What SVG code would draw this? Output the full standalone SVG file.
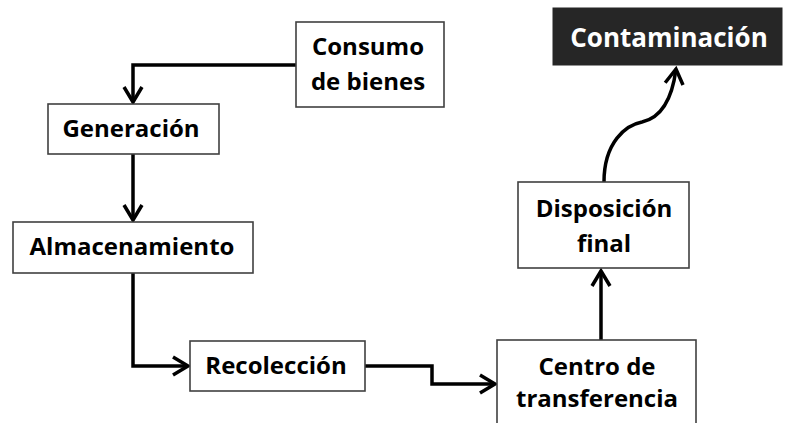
<svg xmlns="http://www.w3.org/2000/svg" width="785" height="423" viewBox="0 0 785 423">
<style>
.box{fill:#fff;stroke:#404040;stroke-width:1.6}
.dark{fill:#262626;stroke:#262626;stroke-width:1}
.t{font-family:"Open Sans","DejaVu Sans",sans-serif;font-weight:bold;font-size:24px;fill:#000;text-anchor:middle}
.tw{font-family:"Open Sans","DejaVu Sans",sans-serif;font-weight:bold;font-size:26px;fill:#fff;text-anchor:middle}
.c{fill:none;stroke:#000;stroke-width:3.5;stroke-linejoin:miter}
</style>
<defs>
<marker id="arr" markerUnits="userSpaceOnUse" viewBox="-18 -12 22 24" refX="0" refY="0" markerWidth="22" markerHeight="24" orient="auto" overflow="visible">
<path d="M-15,-9 L0,0 L-15,9" fill="none" stroke="#000" stroke-width="3.5" stroke-linejoin="miter"/>
</marker>
</defs>
<rect width="785" height="423" fill="#fff"/>
<g id="connectors">
<path class="c" d="M296,65 H133 V102" marker-end="url(#arr)"/>
<path class="c" d="M133,154 V220" marker-end="url(#arr)"/>
<path class="c" d="M133,273 V366 H188" marker-end="url(#arr)"/>
<path class="c" d="M365,366 H432 V384 H495" marker-end="url(#arr)"/>
<path class="c" d="M601,340 V271" marker-end="url(#arr)"/>
<path class="c" d="M604,182 C604,142 626,125 642,122 C660,118 672,100 676,69" marker-end="url(#arr)"/>
</g>
<g id="consumo">
<rect class="box" x="296" y="22" width="148" height="85"/>
<text class="t" x="368" y="55">Consumo</text>
<text class="t" x="368" y="90">de bienes</text>
</g>
<g id="generacion">
<rect class="box" x="48" y="104" width="171" height="50"/>
<text class="t" x="131" y="137">Generación</text>
</g>
<g id="almacenamiento">
<rect class="box" x="13" y="222" width="240" height="51"/>
<text class="t" x="132" y="255">Almacenamiento</text>
</g>
<g id="recoleccion">
<rect class="box" x="190" y="341" width="175" height="50"/>
<text class="t" x="276" y="374">Recolección</text>
</g>
<g id="centro">
<rect class="box" x="497" y="340" width="199" height="95"/>
<text class="t" x="597" y="375">Centro de</text>
<text class="t" x="597" y="407">transferencia</text>
</g>
<g id="disposicion">
<rect class="box" x="518" y="182" width="171" height="86"/>
<text class="t" x="604" y="217">Disposición</text>
<text class="t" x="604" y="252">final</text>
</g>
<g id="contaminacion">
<rect class="dark" x="553" y="8" width="229" height="57"/>
<text class="tw" x="669" y="47">Contaminación</text>
</g>
</svg>
